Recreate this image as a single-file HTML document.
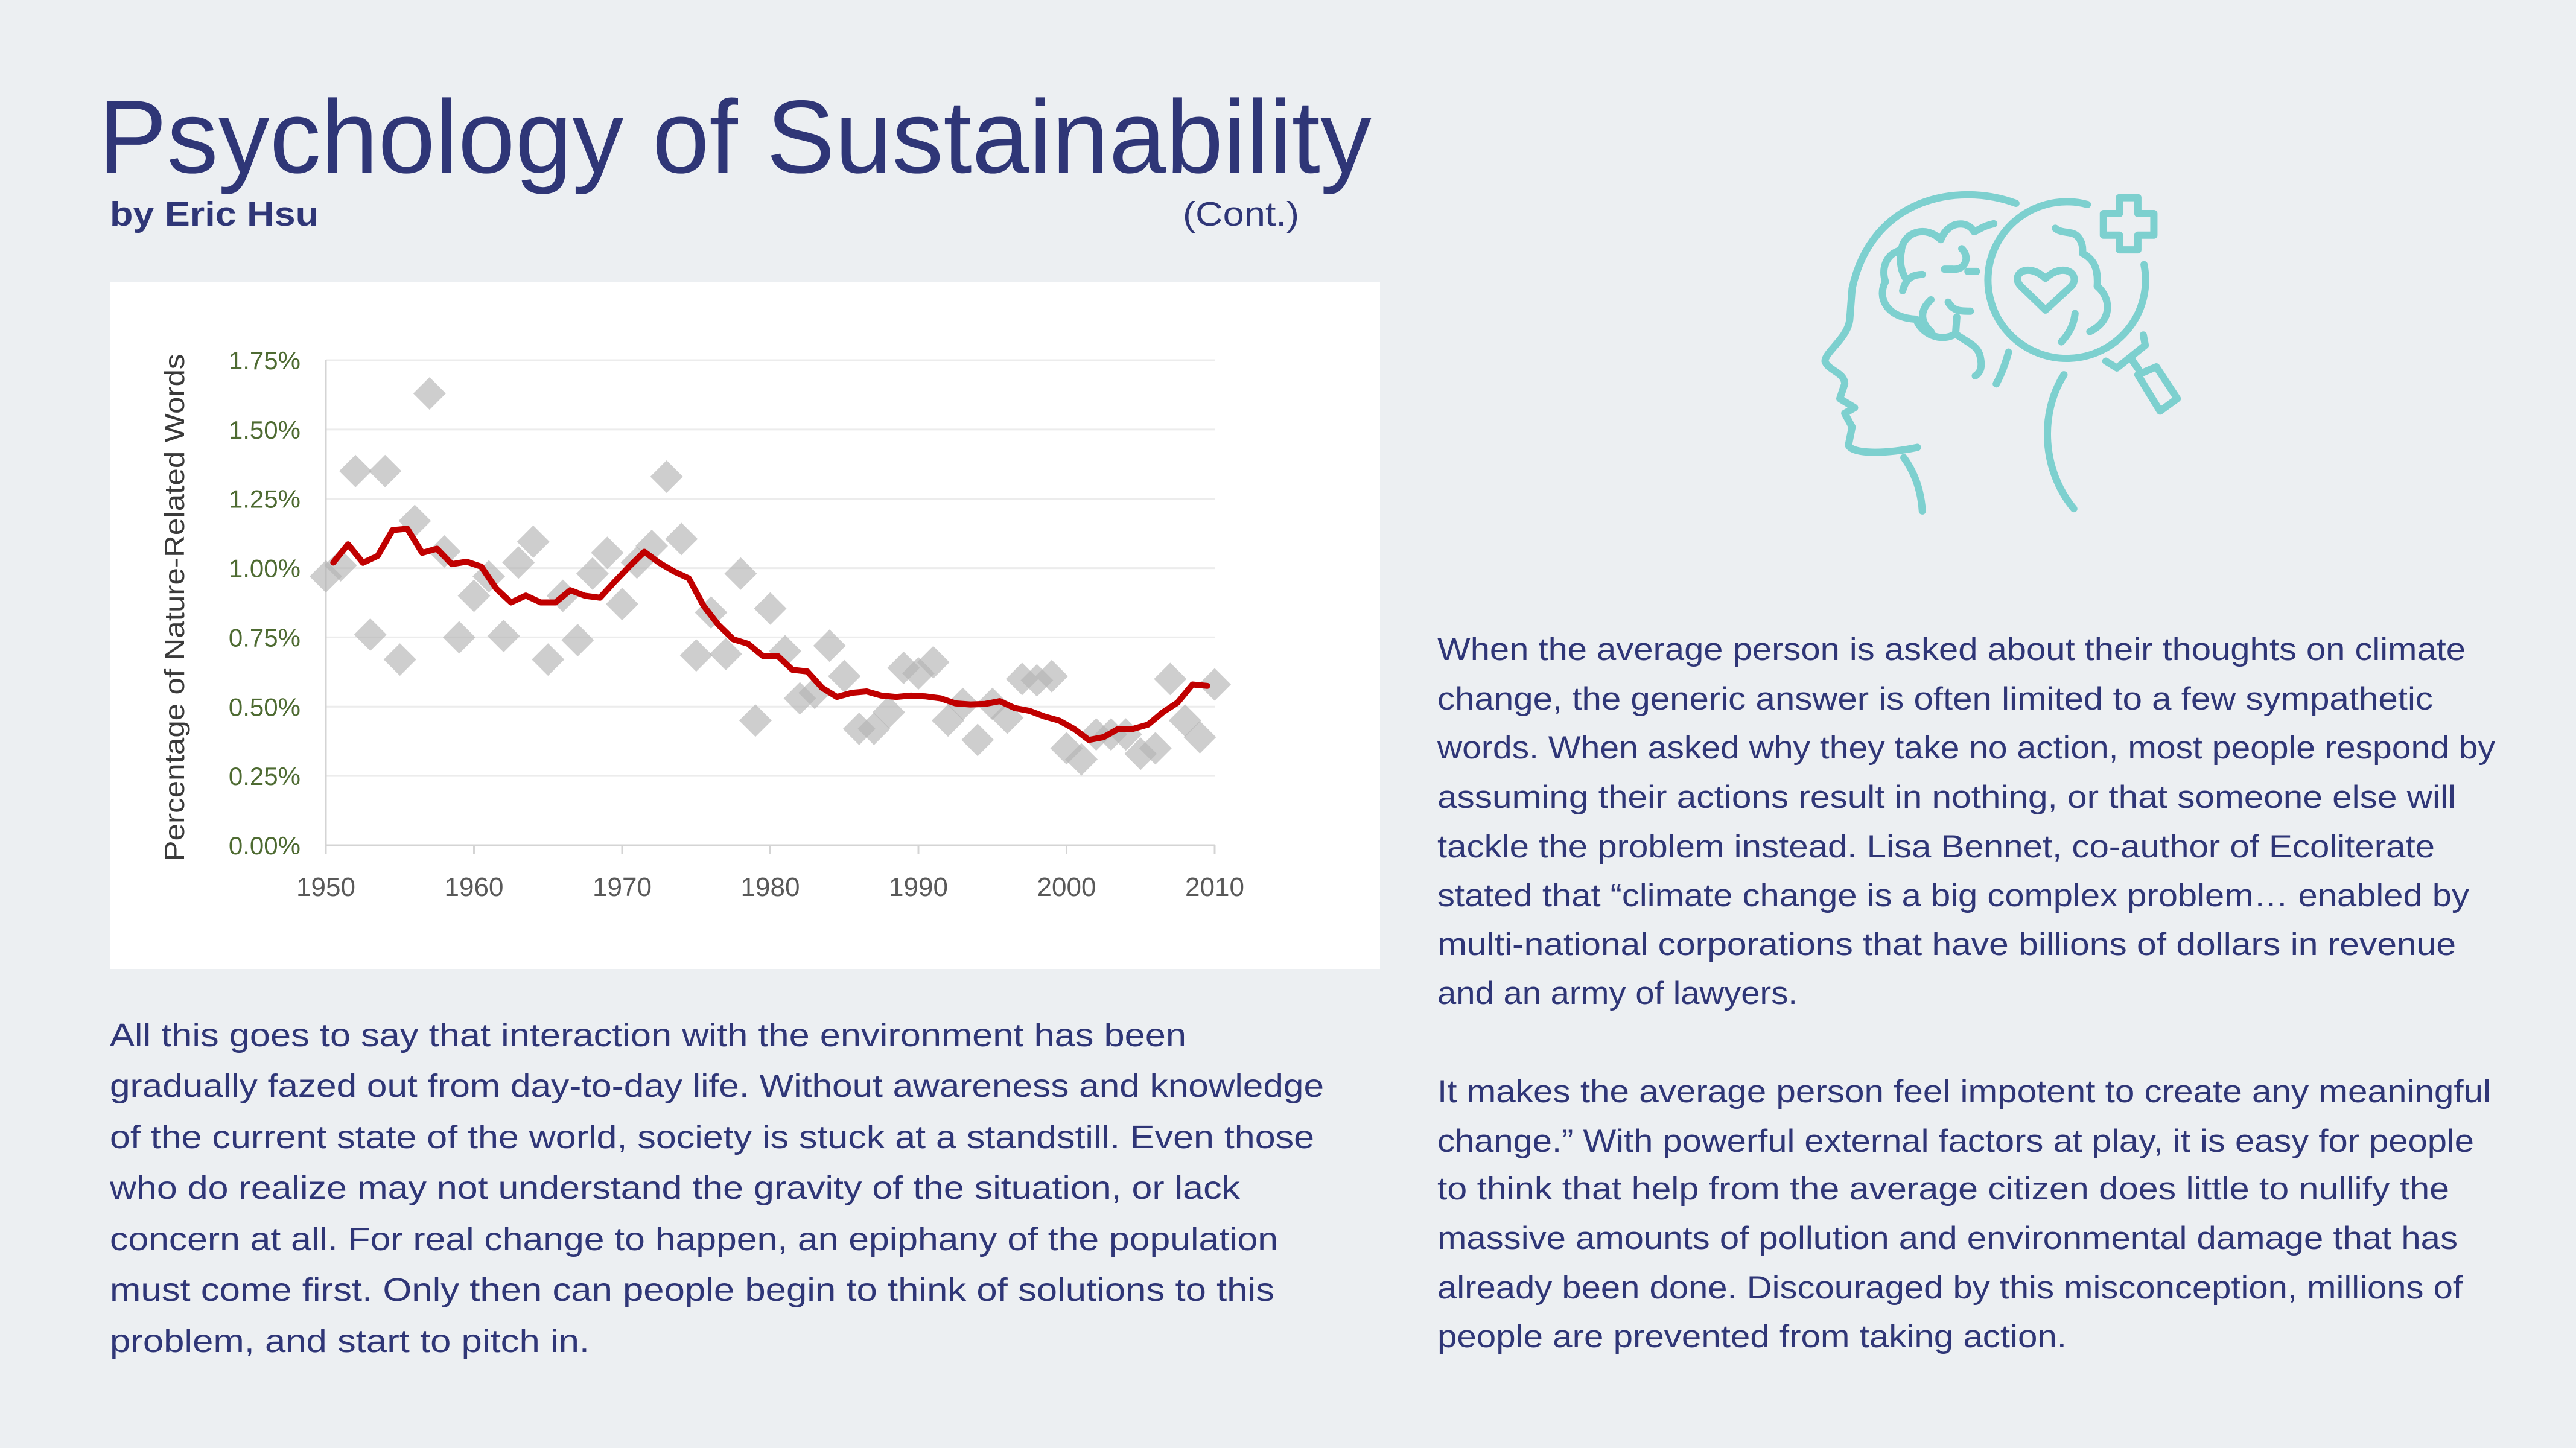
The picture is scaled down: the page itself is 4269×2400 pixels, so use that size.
<!DOCTYPE html>
<html><head><meta charset="utf-8"><style>
html,body{margin:0;padding:0;background:#eceff2;}
svg{display:block;}
.t{font-family:"Liberation Sans",sans-serif;fill:#2f3677;}
</style></head><body>
<svg id="page" width="4269" height="2400" viewBox="0 0 4269 2400" xmlns="http://www.w3.org/2000/svg">
<rect width="4269" height="2400" fill="#eceff2"/>
<text class="t" x="163" y="286" font-size="172" textLength="2110" lengthAdjust="spacingAndGlyphs">Psychology of Sustainability</text>
<text class="t" x="182" y="374" font-size="57" font-weight="bold" textLength="346" lengthAdjust="spacingAndGlyphs">by Eric Hsu</text>
<text class="t" x="1960" y="374" font-size="57" textLength="193" lengthAdjust="spacingAndGlyphs">(Cont.)</text>

<g id="chart">
<rect x="182" y="468" width="2105" height="1138" fill="#ffffff"/>
<g id="grid"></g>
<g id="axes"></g>
<g id="points"></g>
<g id="trend"></g>
<text transform="translate(305,1007) rotate(-90)" text-anchor="middle" font-family="Liberation Sans, sans-serif" font-size="46" fill="#3a3a3a" textLength="841" lengthAdjust="spacingAndGlyphs">Percentage of Nature-Related Words</text>
</g>

<g class="t" font-size="54">
<text class="t" x="182" y="1734" textLength="1784" lengthAdjust="spacingAndGlyphs">All this goes to say that interaction with the environment has been</text>
<text class="t" x="182" y="1818" textLength="2012" lengthAdjust="spacingAndGlyphs">gradually fazed out from day-to-day life. Without awareness and knowledge</text>
<text class="t" x="182" y="1903" textLength="1996" lengthAdjust="spacingAndGlyphs">of the current state of the world, society is stuck at a standstill. Even those</text>
<text class="t" x="182" y="1987" textLength="1873" lengthAdjust="spacingAndGlyphs">who do realize may not understand the gravity of the situation, or lack</text>
<text class="t" x="182" y="2072" textLength="1936" lengthAdjust="spacingAndGlyphs">concern at all. For real change to happen, an epiphany of the population</text>
<text class="t" x="182" y="2156" textLength="1930" lengthAdjust="spacingAndGlyphs">must come first. Only then can people begin to think of solutions to this</text>
<text class="t" x="182" y="2241" textLength="795" lengthAdjust="spacingAndGlyphs">problem, and start to pitch in.</text>
</g>

<g font-size="53">
<text class="t" x="2382" y="1094" textLength="1704" lengthAdjust="spacingAndGlyphs">When the average person is asked about their thoughts on climate</text>
<text class="t" x="2382" y="1176" textLength="1650" lengthAdjust="spacingAndGlyphs">change, the generic answer is often limited to a few sympathetic</text>
<text class="t" x="2382" y="1257" textLength="1753" lengthAdjust="spacingAndGlyphs">words. When asked why they take no action, most people respond by</text>
<text class="t" x="2382" y="1339" textLength="1688" lengthAdjust="spacingAndGlyphs">assuming their actions result in nothing, or that someone else will</text>
<text class="t" x="2382" y="1421" textLength="1653" lengthAdjust="spacingAndGlyphs">tackle the problem instead. Lisa Bennet, co-author of Ecoliterate</text>
<text class="t" x="2382" y="1502" textLength="1710" lengthAdjust="spacingAndGlyphs">stated that “climate change is a big complex problem… enabled by</text>
<text class="t" x="2382" y="1583" textLength="1688" lengthAdjust="spacingAndGlyphs">multi-national corporations that have billions of dollars in revenue</text>
<text class="t" x="2382" y="1664" textLength="597" lengthAdjust="spacingAndGlyphs">and an army of lawyers.</text>
<text class="t" x="2382" y="1827" textLength="1746" lengthAdjust="spacingAndGlyphs">It makes the average person feel impotent to create any meaningful</text>
<text class="t" x="2382" y="1909" textLength="1718" lengthAdjust="spacingAndGlyphs">change.” With powerful external factors at play, it is easy for people</text>
<text class="t" x="2382" y="1988" textLength="1677" lengthAdjust="spacingAndGlyphs">to think that help from the average citizen does little to nullify the</text>
<text class="t" x="2382" y="2070" textLength="1691" lengthAdjust="spacingAndGlyphs">massive amounts of pollution and environmental damage that has</text>
<text class="t" x="2382" y="2152" textLength="1699" lengthAdjust="spacingAndGlyphs">already been done. Discouraged by this misconception, millions of</text>
<text class="t" x="2382" y="2233" textLength="1043" lengthAdjust="spacingAndGlyphs">people are prevented from taking action.</text>
</g>

<g transform="translate(3000,290) scale(0.4082,0.3763)" fill="none" stroke="#7dd0cf" stroke-width="12" stroke-linecap="round" stroke-linejoin="round">
<path vector-effect="non-scaling-stroke" d="M835,125 C600,30 250,100 170,500 L160,640 C150,720 60,780 60,820 C70,860 140,870 140,920 L120,985 L180,1025 L140,1050 L170,1110 L155,1190 C170,1230 300,1230 435,1200"/>
<path vector-effect="non-scaling-stroke" d="M380,1245 C430,1320 450,1400 455,1480"/>
<path vector-effect="non-scaling-stroke" d="M1030,880 C930,1050 940,1300 1070,1470"/>
<path vector-effect="non-scaling-stroke" d="M1125,130 A320,345 0 1,0 1355,395"/>
<path vector-effect="non-scaling-stroke" d="M1200,820 L1245,850 L1360,750 L1352,705"/>
<path vector-effect="non-scaling-stroke" d="M1300,805 L1335,860"/>
<path vector-effect="non-scaling-stroke" d="M1330,880 L1405,845 L1490,985 L1420,1040 Z"/>
<path vector-effect="non-scaling-stroke" d="M1190,170 H1255 V100 H1330 V170 H1395 V265 H1330 V330 H1255 V265 H1190 Z"/>
<path vector-effect="non-scaling-stroke" d="M955,595 L855,490 C810,440 880,380 955,455 C1030,380 1100,440 1060,490 Z"/>
<path vector-effect="non-scaling-stroke" d="M745,215 C700,225 680,245 665,250 C640,200 560,200 530,285 C470,220 380,250 370,330 C300,350 290,420 305,470 C270,540 310,630 430,635 C450,700 530,740 590,700 C640,740 680,750 690,800 C700,850 690,870 670,885"/>
<path vector-effect="non-scaling-stroke" d="M615,325 C650,360 630,420 580,415 L545,415 M640,425 L675,425 M455,438 C400,440 385,470 375,510 M370,335 C360,380 370,430 390,460 M490,550 C440,600 450,650 490,690 M560,560 C580,600 610,600 650,600 M595,625 L590,700 M805,780 C790,840 770,890 755,920"/>
<path vector-effect="non-scaling-stroke" d="M995,235 C1010,250 1030,250 1055,255 C1090,260 1110,300 1105,345 C1150,370 1170,410 1165,490 C1220,540 1230,640 1135,690 M1075,610 C1070,660 1050,700 1020,735"/>
</g>
</svg>
<script>
const scatterYears = [1950,1951,1952,1953,1954,1955,1956,1957,1958,1959,1960,1961,1962,1963,1964,1965,1966,1967,1968,1969,1970,1971,1972,1973,1974,1975,1976,1977,1978,1979,1980,1981,1982,1983,1984,1985,1986,1987,1988,1989,1990,1991,1992,1993,1994,1995,1996,1997,1998,1999,2000,2001,2002,2003,2004,2005,2006,2007,2008,2009,2010];
const scatterValues = [0.97,1.01,1.35,0.76,1.35,0.67,1.17,1.63,1.06,0.75,0.90,0.97,0.755,1.02,1.095,0.67,0.90,0.74,0.98,1.055,0.87,1.02,1.08,1.33,1.105,0.685,0.84,0.69,0.98,0.45,0.854,0.70,0.53,0.55,0.72,0.61,0.42,0.42,0.48,0.64,0.62,0.66,0.45,0.51,0.38,0.51,0.46,0.60,0.595,0.61,0.35,0.31,0.40,0.40,0.40,0.33,0.35,0.60,0.45,0.39,0.58];
const trendYears = [1951,1952,1953,1954,1955,1956,1957,1958,1959,1960,1961,1962,1963,1964,1965,1966,1967,1968,1969,1970,1971,1972,1973,1974,1975,1976,1977,1978,1979,1980,1981,1982,1983,1984,1985,1986,1987,1988,1989,1990,1991,1992,1993,1994,1995,1996,1997,1998,1999,2000,2001,2002,2003,2004,2005,2006,2007,2008,2009,2010];
const trendValues = [1.02,1.086,1.019,1.044,1.137,1.142,1.055,1.07,1.014,1.023,1.005,0.926,0.876,0.901,0.876,0.876,0.92,0.90,0.893,0.951,1.007,1.059,1.019,0.988,0.963,0.864,0.795,0.743,0.727,0.683,0.683,0.633,0.627,0.568,0.535,0.55,0.555,0.54,0.535,0.54,0.537,0.53,0.512,0.508,0.51,0.52,0.495,0.485,0.465,0.45,0.42,0.38,0.39,0.42,0.42,0.435,0.48,0.515,0.58,0.575];
const yTicks = [0,0.25,0.5,0.75,1.0,1.25,1.5,1.75];
const yTickLabels = ["0.00%","0.25%","0.50%","0.75%","1.00%","1.25%","1.50%","1.75%"];
const xTicks = [1950,1960,1970,1980,1990,2000,2010];
const xTickLabels = ["1950","1960","1970","1980","1990","2000","2010"];

const NS = "http://www.w3.org/2000/svg";
const X0 = 540, X1 = 2013, Y0 = 1401, Y1 = 597;
function xScale(yr){ return X0 + (yr - 1950) / 60 * (X1 - X0); }
function yScale(v){ return Y0 - v / 1.75 * (Y0 - Y1); }
function mk(tag, attrs, parent){ const e = document.createElementNS(NS, tag); for (const k in attrs) e.setAttribute(k, attrs[k]); parent.appendChild(e); return e; }

const grid = document.getElementById('grid');
const axes = document.getElementById('axes');
yTicks.forEach((v, i) => {
  const y = yScale(v);
  if (v > 0) {
    const g = mk('line', {x1: X0, x2: X1, y1: y, y2: y, stroke: '#ececec', 'stroke-width': 3}, grid);
    
    
  }
  const t = mk('text', {x: 498, y: y + 15, 'text-anchor': 'end', 'font-family': 'Liberation Sans, sans-serif', 'font-size': 42, fill: '#4e6b32'}, axes);
  t.textContent = yTickLabels[i];
  
  
});
const ya = mk('line', {x1: X0, x2: X0, y1: Y1, y2: Y0, stroke: '#d4d4d4', 'stroke-width': 3}, axes);


const xa = mk('line', {x1: X0, x2: X1, y1: Y0, y2: Y0, stroke: '#d4d4d4', 'stroke-width': 3}, axes);


xTicks.forEach((yr, i) => {
  const x = xScale(yr);
  const tk = mk('line', {x1: x, x2: x, y1: Y0, y2: Y0 + 14, stroke: '#d4d4d4', 'stroke-width': 3}, axes);
  
  
  const t = mk('text', {x: x, y: 1485, 'text-anchor': 'middle', 'font-family': 'Liberation Sans, sans-serif', 'font-size': 44, fill: '#595959'}, axes);
  t.textContent = xTickLabels[i];
  
  
});

const pts = document.getElementById('points');
const h = 27;
scatterYears.forEach((yr, i) => {
  const cx = xScale(yr), cy = yScale(scatterValues[i]);
  const d = mk('polygon', {points: `${cx},${cy-h} ${cx+h},${cy} ${cx},${cy+h} ${cx-h},${cy}`, fill: '#b3b3b3', 'fill-opacity': 0.65}, pts);
  
  
});

const trend = document.getElementById('trend');
const dstr = trendYears.map((yr, i) => (i ? 'L' : 'M') + xScale(yr - 0.5).toFixed(1) + ',' + yScale(trendValues[i]).toFixed(1)).join(' ');
const line = mk('path', {d: dstr, fill: 'none', stroke: '#c00000', 'stroke-width': 10, 'stroke-linejoin': 'round', 'stroke-linecap': 'round'}, trend);


</script>
</body></html>
